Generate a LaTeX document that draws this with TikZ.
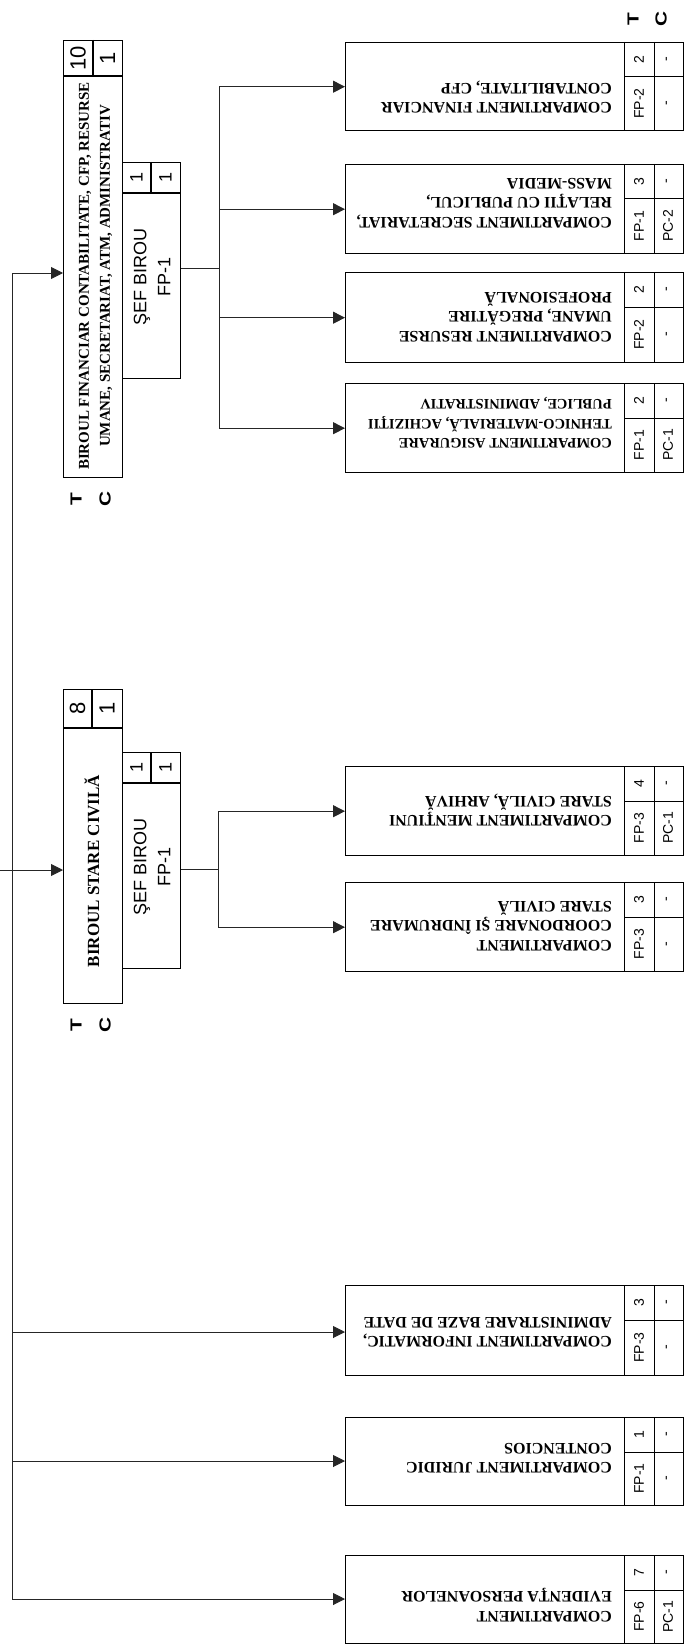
\documentclass[tikz,border=0pt]{standalone}
\usepackage{fontspec}
\setmainfont{Liberation Serif}
\setsansfont{Liberation Sans}
\newfontfamily\tcfont[FakeStretch=1.3]{Liberation Sans}
\usetikzlibrary{arrows.meta}
\newcommand\compbox[9]{%
  \node[box, minimum width=338pt, minimum height={(#3-#2)*1pt}] (#1) at (345,#2) {};
  \draw[inner] (624,#2) -- (624,#3) (654,#2) -- (654,#3) (624,{#2+35}) -- (683,{#2+35});
  \node[ctext] (#1t) at (612,#4) {#5};
  \node[cell] (#1a) at (639,{#2+17.5}) {#6};
  \node[cell] (#1b) at (668,{#2+17.5}) {#7};
  \node[cell] (#1c) at (639,{(#2+35+#3)/2}) {#8};
  \node[cell] (#1d) at (668,{(#2+35+#3)/2}) {#9};
}
\begin{document}
\begin{tikzpicture}[x=1pt,y=-1pt,
  box/.style={draw, line width=1.4pt, inner sep=0pt, anchor=north west},
  inner/.style={line width=1pt},
  conn/.style={line width=0.9pt, draw=black!85},
  arr/.style={conn, -{Triangle[length=12pt,width=12pt]}},
  ctext/.style={font=\bfseries\fontsize{16}{19.5}\selectfont, rotate=180, align=left, anchor=west, inner sep=0pt},
  cell/.style={font=\sffamily\fontsize{14}{14}\selectfont, rotate=90, inner sep=0pt},
  bnum/.style={font=\sffamily\fontsize{22}{22}\selectfont, rotate=90, inner sep=0pt},
  snum/.style={font=\sffamily\fontsize{18}{18}\selectfont, rotate=90, inner sep=0pt},
  btitle/.style={font=\bfseries\fontsize{15}{21}\selectfont, rotate=90, align=center, inner sep=0pt},
  seft/.style={font=\sffamily\fontsize{18}{24}\selectfont, rotate=90, align=center, inner sep=0pt},
  tc/.style={font=\tcfont\bfseries\fontsize{16}{16}\selectfont, rotate=90, inner sep=0pt}]
\useasboundingbox (0,0) rectangle (683,1648);

% ---- Biroul financiar
\node[box, minimum width=59pt, minimum height=437pt] (b1) at (63,40) {};
\draw[line width=1.4pt] (63,76) -- (122,76) (93,40) -- (93,76);
\node[bnum] (b1T) at (78,58) {10};
\node[bnum] (b1C) at (107.5,58) {1};
\node[btitle] (b1t) at (95.5,276) {BIROUL FINANCIAR CONTABILITATE, CFP, RESURSE\\UMANE, SECRETARIAT, ATM, ADMINISTRATIV};
\node[tc] (b1lT) at (76,499) {T};
\node[tc] (b1lC) at (105,499) {C};

\node[box, minimum width=58pt, minimum height=216pt] (s1) at (122,162) {};
\draw[line width=1.4pt] (122,193) -- (180,193) (151,162) -- (151,193);
\node[snum] (s1T) at (136.5,177.5) {1};
\node[snum] (s1C) at (165.5,177.5) {1};
\node[seft] (s1t) at (152,277) {ŞEF BIROU\\FP-1};

% ---- Biroul stare civila
\node[box, minimum width=59pt, minimum height=314pt] (b2) at (63,689) {};
\draw[line width=1.4pt] (63,728) -- (122,728) (92,689) -- (92,728);
\node[bnum] (b2T) at (77.5,708.5) {8};
\node[bnum] (b2C) at (107,708.5) {1};
\node[btitle, font=\bfseries\fontsize{17}{21}\selectfont] (b2t) at (92,871) {BIROUL STARE CIVILĂ};
\node[tc] (b2lT) at (76,1025) {T};
\node[tc] (b2lC) at (105,1025) {C};

\node[box, minimum width=58pt, minimum height=216pt] (s2) at (122,752) {};
\draw[line width=1.4pt] (122,783) -- (180,783) (151,752) -- (151,783);
\node[snum] (s2T) at (136.5,767.5) {1};
\node[snum] (s2C) at (165.5,767.5) {1};
\node[seft] (s2t) at (152,867) {ŞEF BIROU\\FP-1};

% ---- Compartments
\node[tc] (cT) at (633,19) {T};
\node[tc] (cC) at (661,19) {C};
\compbox{c1}{42}{130}{97}{COMPARTIMENT FINANCIAR\\CONTABILITATE, CFP}{2}{-}{FP-2}{-}
\compbox{c2}{164}{253}{203}{COMPARTIMENT SECRETARIAT,\\RELAŢII CU PUBLICUL,\\MASS-MEDIA}{3}{-}{FP-1}{PC-2}
\compbox{c3}{272}{362}{317}{COMPARTIMENT RESURSE\\UMANE, PREGĂTIRE\\PROFESIONALĂ}{2}{-}{FP-2}{-}
\begin{scope}[ctext/.append style={font=\bfseries\fontsize{14.5}{19.5}\selectfont}]
\compbox{c4}{383}{472}{423}{COMPARTIMENT ASIGURARE\\TEHNICO-MATERIALĂ, ACHIZIŢII\\PUBLICE, ADMINISTRATIV}{2}{-}{FP-1}{PC-1}
\end{scope}
\compbox{c5}{766}{855}{810}{COMPARTIMENT MENŢIUNI\\STARE CIVILĂ, ARHIVĂ}{4}{-}{FP-3}{PC-1}
\compbox{c6}{882}{971}{926}{COMPARTIMENT\\COORDONARE ŞI ÎNDRUMARE\\STARE CIVILĂ}{3}{-}{FP-3}{-}
\compbox{c7}{1285}{1375}{1332}{COMPARTIMENT INFORMATIC,\\ADMINISTRARE BAZE DE DATE}{3}{-}{FP-3}{-}
\compbox{c8}{1417}{1505}{1458}{COMPARTIMENT JURIDIC\\CONTENCIOS}{1}{-}{FP-1}{-}
\compbox{c9}{1555}{1643}{1605}{COMPARTIMENT\\EVIDENŢA PERSOANELOR}{7}{-}{FP-6}{PC-1}

% ---- Connectors
\coordinate (mt) at (12,273);
\coordinate (m2) at (12,870);
\coordinate (stub) at (0,870);
\coordinate (m3) at (12,1332);
\coordinate (m4) at (12,1461);
\coordinate (mb) at (12,1599);
\draw[conn] (mt) -- (mb);
\draw[conn] (stub) -- (m2);
\draw[arr] (mt) -- (b1.west |- mt);
\draw[arr] (m2) -- (b2.west |- m2);
\draw[arr] (m3) -- (c7.west |- m3);
\draw[arr] (m4) -- (c8.west |- m4);
\draw[arr] (mb) -- (c9.west |- mb);

\coordinate (f0) at (219,268);
\draw[conn] (s1.east |- f0) -- (f0);
\draw[conn] (f0 |- c1.west) -- (f0 |- c4.west);
\foreach \c in {c1,c2,c3,c4} \draw[arr] (f0 |- \c.west) -- (\c.west);

\coordinate (g0) at (218,869);
\draw[conn] (s2.east |- g0) -- (g0);
\draw[conn] (g0 |- c5.west) -- (g0 |- c6.west);
\foreach \c in {c5,c6} \draw[arr] (g0 |- \c.west) -- (\c.west);
\end{tikzpicture}
\end{document}
